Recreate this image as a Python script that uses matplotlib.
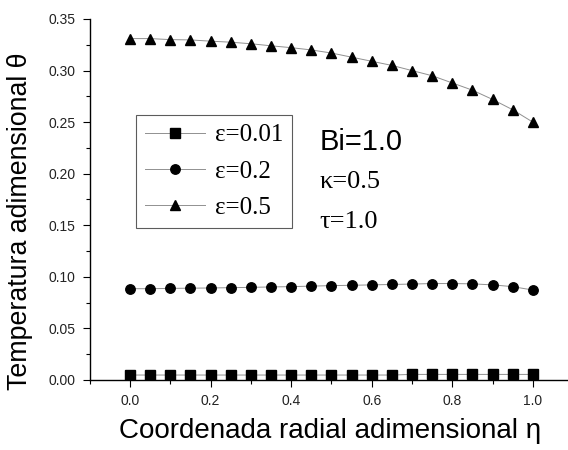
import matplotlib
matplotlib.use("Agg")
import matplotlib.pyplot as plt
from matplotlib.ticker import MultipleLocator

eta = [0.0, 0.05, 0.1, 0.15, 0.2, 0.25, 0.3, 0.35, 0.4, 0.45, 0.5,
       0.55, 0.6, 0.65, 0.7, 0.75, 0.8, 0.85, 0.9, 0.95, 1.0]
theta_001 = [0.0048, 0.0048, 0.0048, 0.0048, 0.0048, 0.0048, 0.0048, 0.0048, 0.0048, 0.0048, 0.0048,
             0.0048, 0.0048, 0.0048, 0.0054, 0.0054, 0.0054, 0.0054, 0.0054, 0.0054, 0.0054]
theta_02 = [0.0885, 0.0885, 0.0888, 0.0890, 0.0892, 0.0895, 0.0898, 0.0902, 0.0905, 0.0910, 0.0915,
            0.0918, 0.0922, 0.0926, 0.0930, 0.0935, 0.0935, 0.0932, 0.0922, 0.0905, 0.0872]
theta_05 = [0.331, 0.331, 0.330, 0.3297, 0.3285, 0.3275, 0.326, 0.324, 0.3222, 0.320, 0.317,
            0.313, 0.309, 0.305, 0.300, 0.295, 0.288, 0.281, 0.272, 0.262, 0.250]

labels = ["ε=0.01", "ε=0.2", "ε=0.5"]

fig = plt.figure(figsize=(5.68, 4.5), dpi=100)
ax = fig.add_axes([0.158, 0.1556, 0.851, 0.8022])

line_kw = dict(color="#909090", linewidth=0.7, markerfacecolor="black", markeredgecolor="black")
ax.plot(eta, theta_001, marker="s", markersize=6.5, label=labels[0], **line_kw)
ax.plot(eta, theta_02, marker="o", markersize=6.8, label=labels[1], **line_kw)
ax.plot(eta, theta_05, marker="^", markersize=7.5, label=labels[2], **line_kw)

ax.set_xlim(-0.1, 1.1)
ax.set_ylim(0.0, 0.35)
ax.xaxis.set_major_locator(MultipleLocator(0.2))
ax.xaxis.set_minor_locator(MultipleLocator(0.1))
ax.yaxis.set_major_locator(MultipleLocator(0.05))
ax.yaxis.set_minor_locator(MultipleLocator(0.025))
ax.xaxis.set_major_formatter(plt.FormatStrFormatter("%.1f"))
ax.yaxis.set_major_formatter(plt.FormatStrFormatter("%.2f"))

for s in ["top", "right"]:
    ax.spines[s].set_visible(False)
for s in ["left", "bottom"]:
    ax.spines[s].set_linewidth(1.0)

ax.tick_params(which="major", direction="out", length=5, width=0.8, labelsize=10,
               labelcolor="#222222", pad=5)
ax.tick_params(which="minor", direction="out", length=3, width=0.8)
for lbl in ax.get_xticklabels() + ax.get_yticklabels():
    lbl.set_family("Liberation Sans")

ax.set_xlabel("Coordenada radial adimensional η", fontsize=20, family="Liberation Sans")
ax.set_ylabel("Temperatura adimensional θ", fontsize=19.3, family="Liberation Sans")
ax.xaxis.set_label_coords(0.497, -0.105)
ax.yaxis.set_label_coords(-0.117, 0.44)

leg = ax.legend(loc="upper left", bbox_to_anchor=(0.0957, 0.734), prop={"family": "Liberation Serif", "size": 18},
                frameon=True, fancybox=False, edgecolor="#333333", handlelength=2.4,
                handletextpad=0.4, labelspacing=0.55, borderpad=0.35, borderaxespad=0)
leg.get_frame().set_linewidth(0.8)

ax.text(0.476, 0.637, "Bi=1.0", transform=ax.transAxes, fontsize=21, family="Liberation Sans")
ax.text(0.476, 0.532, "κ=0.5", transform=ax.transAxes, fontsize=19, family="Liberation Serif")
ax.text(0.476, 0.422, "τ=1.0", transform=ax.transAxes, fontsize=19, family="Liberation Serif")

plt.savefig("out.png", dpi=100)
